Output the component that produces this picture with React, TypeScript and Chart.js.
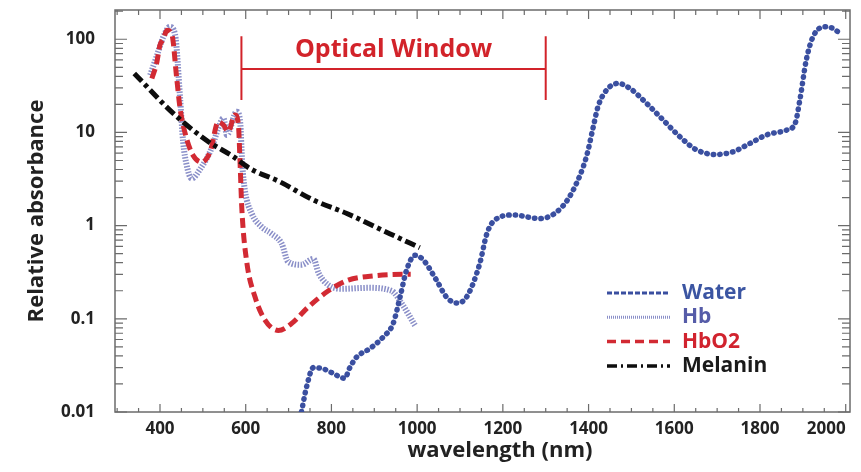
import { useEffect, useRef } from 'react';
import { Chart, registerables } from 'chart.js';

Chart.register(...registerables);

// ---------- data ----------
const seriesNames = ['Water', 'Hb', 'HbO2', 'Melanin'];

const waterX = [730, 742, 758, 781, 804, 831, 843, 859, 890, 921, 944, 960, 975, 995, 1014, 1045, 1069, 1092, 1115, 1146, 1162, 1177, 1224, 1286, 1333, 1364, 1395, 1411, 1422, 1442, 1469, 1496, 1535, 1574, 1613, 1652, 1698, 1737, 1776, 1815, 1862, 1882, 1893, 1908, 1924, 1951, 1970, 1986];
const waterY = [0.01, 0.0186, 0.03, 0.029, 0.026, 0.023, 0.03, 0.039, 0.048, 0.064, 0.089, 0.17, 0.33, 0.48, 0.43, 0.26, 0.17, 0.148, 0.17, 0.39, 0.8, 1.1, 1.3, 1.19, 1.5, 2.4, 5.5, 11.5, 18.9, 28.5, 33.6, 29.8, 20.6, 13.6, 9.0, 6.5, 5.8, 6.2, 7.6, 9.4, 10.6, 12.5, 22.3, 60, 107, 136, 131, 116];

const hbX = [377, 392, 408, 423, 435, 447, 454, 462, 474, 493, 520, 536, 548, 556, 579, 587, 592, 598, 614, 637, 660, 684, 699, 730, 758, 770, 793, 824, 886, 940, 964, 995];
const hbY = [41, 65, 107, 136, 113, 23, 7.9, 4.5, 3.2, 4.0, 6.7, 11.1, 14.2, 9.4, 16.7, 13, 4.5, 2.4, 1.35, 0.97, 0.82, 0.64, 0.41, 0.38, 0.44, 0.31, 0.23, 0.21, 0.215, 0.2, 0.146, 0.085];

const hbo2X = [381, 392, 400, 408, 416, 428, 439, 447, 462, 477, 497, 517, 536, 548, 559, 575, 583, 587, 591, 602, 622, 645, 676, 707, 746, 793, 839, 901, 971, 985];
const hbo2Y = [38, 55, 87, 100, 125, 111, 38, 18, 8.6, 5.7, 4.8, 6.2, 13, 12, 10.2, 15.4, 12, 4.5, 1.5, 0.42, 0.17, 0.097, 0.075, 0.089, 0.134, 0.2, 0.26, 0.29, 0.3, 0.3];

const melaninX = [340, 431, 509, 571, 610, 680, 758, 836, 936, 1006];
const melaninY = [43, 16, 8.2, 5.5, 4.1, 2.95, 1.88, 1.35, 0.82, 0.58];

const xTickValues = [400, 600, 800, 1000, 1200, 1400, 1600, 1800, 2000];
const yTickValues = [0.01, 0.1, 1, 10, 100];
const yTickLabels = ['0.01', '0.1', '1', '10', '100'];

const xMin = 295;
const xMax = 2010;
const yMin = 0.01;
const yMax = 206;

const windowLabel = 'Optical Window';
const windowStart = 590;
const windowEnd = 1300;
const windowTop = 108;
const windowBar = 48;
const windowBottom = 22.3;
const windowLabelY = 76;

const xTitle = 'wavelength (nm)';
const yTitle = 'Relative absorbance';

// ---------- styles ----------
const FONT = "'Open Sans', 'Noto Sans', 'DejaVu Sans', sans-serif";
const AXIS_COLOR = '#6b6b6b';
const TEXT_COLOR = '#222222';
const RED = '#d2232a';

const pts = (xs: number[], ys: number[]) => xs.map((x, i) => ({ x, y: ys[i] }));

const framePlugin = {
  id: 'frameTicks',
  beforeDatasetsDraw(chart: any) {
    const { ctx, chartArea: a, scales } = chart;
    const xs = scales.x;
    const ys = scales.y;
    ctx.save();
    ctx.strokeStyle = AXIS_COLOR;
    ctx.lineWidth = 1.5;
    ctx.strokeRect(a.left, a.top, a.right - a.left, a.bottom - a.top);
    ctx.lineWidth = 1.2;
    ctx.beginPath();
    for (let v = Math.ceil(xMin / 50) * 50; v <= xMax; v += 50) {
      const px = xs.getPixelForValue(v);
      const major = v % 200 === 0;
      ctx.moveTo(px, a.bottom);
      ctx.lineTo(px, a.bottom - (major ? 8 : 4));
      ctx.moveTo(px, a.top);
      ctx.lineTo(px, a.top + (major ? 9 : 5));
    }
    for (let e = -2; e <= 2; e++) {
      for (let m = 1; m <= 9; m++) {
        const v = m * Math.pow(10, e);
        if (v < yMin * 0.999 || v > yMax) continue;
        const py = ys.getPixelForValue(v);
        const len = m === 1 ? 12 : 8;
        ctx.moveTo(a.left, py);
        ctx.lineTo(a.left + len, py);
        ctx.moveTo(a.right, py);
        ctx.lineTo(a.right - len, py);
      }
    }
    ctx.stroke();
    ctx.restore();
  },
};

const annotationPlugin = {
  id: 'annotations',
  afterDatasetsDraw(chart: any) {
    const { ctx, scales } = chart;
    const xs = scales.x;
    const ys = scales.y;
    ctx.save();
    // optical window bracket
    const x1 = xs.getPixelForValue(windowStart);
    const x2 = xs.getPixelForValue(windowEnd);
    const yt = ys.getPixelForValue(windowTop);
    const yb = ys.getPixelForValue(windowBottom);
    const ym = ys.getPixelForValue(windowBar);
    ctx.strokeStyle = RED;
    ctx.lineWidth = 2;
    ctx.beginPath();
    ctx.moveTo(x1, yt); ctx.lineTo(x1, yb);
    ctx.moveTo(x2, yt); ctx.lineTo(x2, yb);
    ctx.moveTo(x1, ym); ctx.lineTo(x2, ym);
    ctx.stroke();
    ctx.fillStyle = RED;
    ctx.font = `bold 25px ${FONT}`;
    ctx.textAlign = 'center';
    ctx.textBaseline = 'middle';
    ctx.fillText(windowLabel, (x1 + x2) / 2, ys.getPixelForValue(windowLabelY));

    // x axis title
    ctx.fillStyle = TEXT_COLOR;
    ctx.font = `bold 22px ${FONT}`;
    ctx.fillText(xTitle, 500, 451);

    // legend
    const lx0 = 607, lx1 = 670, tx = 682, ty0 = 293, gap = 24.3;
    chart.data.datasets.forEach((ds: any, i: number) => {
      const y = ty0 + i * gap;
      ctx.strokeStyle = ds.borderColor;
      ctx.lineWidth = ds.legendWidth;
      ctx.lineCap = 'butt';
      ctx.setLineDash(ds.legendDash);
      ctx.beginPath();
      ctx.moveTo(lx0, y);
      ctx.lineTo(lx1, y);
      ctx.stroke();
      ctx.setLineDash([]);
      ctx.fillStyle = ds.labelColor;
      ctx.font = `bold 21px ${FONT}`;
      ctx.textAlign = 'left';
      ctx.fillText(ds.label, tx, y);
    });
    ctx.restore();
  },
};

export default function App() {
  const ref = useRef<HTMLCanvasElement | null>(null);

  useEffect(() => {
    if (!ref.current) return;
    const chart = new Chart(ref.current, {
      type: 'line',
      data: {
        datasets: [
          {
            label: seriesNames[0],
            data: pts(waterX, waterY),
            borderColor: '#3a4fa0',
            borderWidth: 5.5,
            borderDash: [0.5, 6],
            borderCapStyle: 'round',
            order: 1,
            labelColor: '#3b55a2',
            legendDash: [5, 2],
            legendWidth: 3,
          } as any,
          {
            label: seriesNames[1],
            data: pts(hbX, hbY),
            borderColor: '#8a8fc8',
            borderWidth: 6,
            borderDash: [1.5, 1.5],
            borderCapStyle: 'butt',
            order: 3,
            labelColor: '#565ca8',
            legendDash: [1, 1],
            legendWidth: 3,
          } as any,
          {
            label: seriesNames[2],
            data: pts(hbo2X, hbo2Y),
            borderColor: '#d22a33',
            borderWidth: 5,
            borderDash: [10, 5],
            borderCapStyle: 'butt',
            order: 2,
            labelColor: '#d1232e',
            legendDash: [9, 5],
            legendWidth: 3.5,
          } as any,
          {
            label: seriesNames[3],
            data: pts(melaninX, melaninY),
            borderColor: '#0d0d0d',
            borderWidth: 5,
            borderDash: [11, 4, 4, 4],
            borderCapStyle: 'butt',
            order: 0,
            labelColor: '#1a1a1a',
            legendDash: [10, 4, 2, 4],
            legendWidth: 3.5,
          } as any,
        ],
      },
      options: {
        responsive: false,
        animation: false,
        events: [],
        layout: { padding: { top: 10, right: 11, left: 0, bottom: 0 } },
        elements: {
          point: { radius: 0 },
          line: { cubicInterpolationMode: 'monotone', fill: false },
        },
        plugins: {
          legend: { display: false },
          tooltip: { enabled: false },
          title: { display: false },
        },
        scales: {
          x: {
            type: 'linear',
            min: xMin,
            max: xMax,
            grid: { display: false, drawTicks: false },
            border: { display: false },
            afterBuildTicks: (s: any) => {
              s.ticks = [xMin, ...xTickValues].map((v) => ({ value: v }));
            },
            afterFit: (s: any) => {
              s.height = 60;
              s.paddingLeft = 0;
              s.paddingRight = 0;
            },
            ticks: {
              autoSkip: false,
              maxRotation: 0,
              minRotation: 0,
              align: 'inner',
              padding: 7,
              color: TEXT_COLOR,
              font: { family: FONT, size: 17, weight: 'bold' },
              callback: (v: any) => (xTickValues.includes(Number(v)) ? String(v) : ''),
            },
          },
          y: {
            type: 'logarithmic',
            min: yMin,
            max: yMax,
            grid: { display: false, drawTicks: false },
            border: { display: false },
            afterBuildTicks: (s: any) => {
              s.ticks = yTickValues.map((v) => ({ value: v }));
            },
            afterFit: (s: any) => {
              s.width = 115;
              s.paddingTop = 0;
              s.paddingBottom = 0;
            },
            ticks: {
              autoSkip: false,
              padding: 20,
              color: TEXT_COLOR,
              font: { family: FONT, size: 17, weight: 'bold' },
              callback: (v: any) => {
                const i = yTickValues.findIndex((t) => Math.abs(t - Number(v)) < t * 1e-6);
                return i >= 0 ? yTickLabels[i] : '';
              },
            },
            title: {
              display: true,
              text: yTitle,
              color: TEXT_COLOR,
              font: { family: FONT, size: 22, weight: 'bold' },
              padding: { top: 24, bottom: 0 },
            },
          },
        },
      } as any,
      plugins: [framePlugin, annotationPlugin],
    });
    return () => chart.destroy();
  }, []);

  return (
    <div style={{ position: 'absolute', left: 0, top: 0, width: 861, height: 472, background: '#fff' }}>
      <canvas ref={ref} width={861} height={472} style={{ display: 'block' }} />
    </div>
  );
}
